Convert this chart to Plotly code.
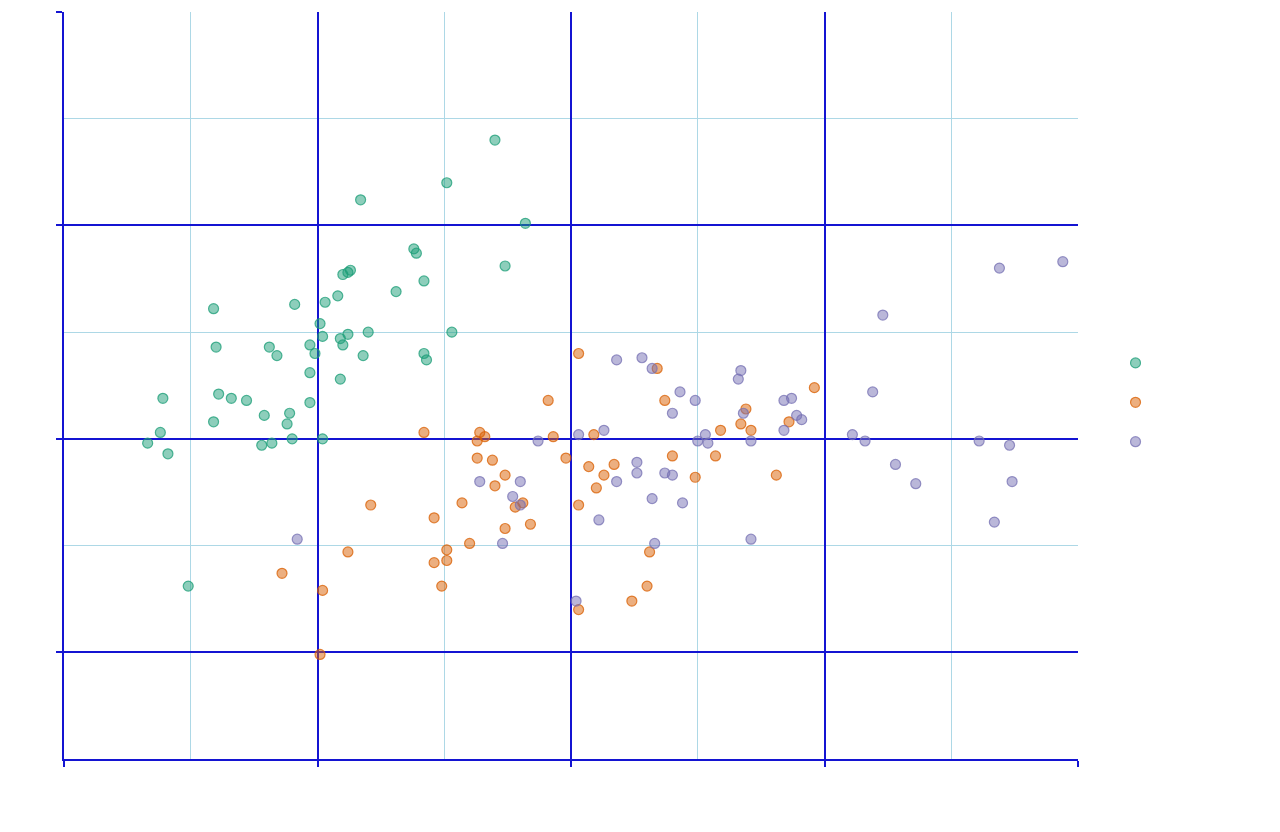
import plotly.graph_objects as go

# sepal length / sepal width, per group
green_x = [5.70, 5.51, 5.17, 5.82, 5.38, 5.39, 5.74, 5.10, 5.12, 5.13,
           5.42, 5.31, 5.08, 5.03, 4.91, 4.59, 5.01, 5.20, 5.53, 5.02,
           5.12, 5.09, 4.97, 5.10, 4.60, 4.81, 4.99, 4.84, 5.18, 5.42,
           5.43, 4.97, 5.09, 4.39, 4.61, 4.66, 4.72, 4.97, 4.79, 4.89,
           4.59, 4.88, 4.38, 4.33, 4.41, 4.78, 4.82, 4.90, 5.02, 4.49]
green_y = [4.40, 4.20, 4.12, 4.01, 3.89, 3.87, 3.81, 3.77, 3.78, 3.79,
           3.74, 3.69, 3.67, 3.64, 3.63, 3.61, 3.54, 3.50, 3.50, 3.48,
           3.49, 3.47, 3.44, 3.44, 3.43, 3.43, 3.40, 3.39, 3.39, 3.40,
           3.37, 3.31, 3.28, 3.19, 3.21, 3.19, 3.18, 3.17, 3.11, 3.12,
           3.08, 3.07, 3.03, 2.98, 2.93, 2.97, 2.98, 3.00, 3.00, 2.31]

orange_x = [5.42, 5.64, 5.63, 5.66, 5.91, 5.93, 5.63, 5.69, 5.74, 5.70,
            5.57, 5.81, 5.78, 5.46, 5.84, 5.74, 5.21, 5.60, 5.51, 5.46,
            5.51, 5.49, 5.12, 4.86, 5.02, 6.03, 6.34, 6.37, 6.69, 6.96,
            6.67, 6.71, 6.86, 6.59, 6.09, 5.98, 6.40, 6.57, 6.07, 6.17,
            6.13, 6.10, 6.49, 6.81, 6.03, 6.31, 6.30, 6.24, 6.03, 5.01]
orange_y = [3.03, 3.03, 2.99, 3.01, 3.18, 3.01, 2.91, 2.90, 2.83, 2.78,
            2.70, 2.70, 2.68, 2.63, 2.60, 2.58, 2.69, 2.51, 2.48, 2.42,
            2.43, 2.31, 2.47, 2.37, 2.29, 3.40, 3.33, 3.18, 3.14, 3.24,
            3.07, 3.04, 3.08, 3.04, 3.02, 2.91, 2.92, 2.92, 2.87, 2.88,
            2.83, 2.77, 2.82, 2.83, 2.69, 2.47, 2.31, 2.24, 2.20, 1.99]

purple_x = [5.87, 5.64, 5.80, 5.77, 5.80, 5.73, 4.92, 6.18, 6.28, 6.32,
            6.67, 6.66, 6.43, 6.49, 6.84, 6.87, 6.40, 6.68, 6.89, 6.91,
            6.84, 6.13, 6.03, 6.53, 6.50, 6.54, 6.71, 6.26, 6.26, 6.37,
            6.40, 6.18, 6.32, 6.44, 6.11, 6.33, 6.71, 6.02, 7.69, 7.94,
            7.23, 7.19, 7.11, 7.16, 7.28, 7.36, 7.61, 7.73, 7.74, 7.67]
purple_y = [2.99, 2.80, 2.80, 2.73, 2.69, 2.51, 2.53, 3.37, 3.38, 3.33,
            3.32, 3.28, 3.22, 3.18, 3.18, 3.19, 3.12, 3.12, 3.11, 3.09,
            3.04, 3.04, 3.02, 3.02, 2.99, 2.98, 2.99, 2.89, 2.84, 2.84,
            2.83, 2.80, 2.72, 2.70, 2.62, 2.51, 2.53, 2.24, 3.80, 3.83,
            3.58, 3.22, 3.02, 2.99, 2.88, 2.79, 2.99, 2.97, 2.80, 2.61]

groups = [
    (green_x, green_y, (27, 158, 119)),
    (orange_x, orange_y, (217, 95, 2)),
    (purple_x, purple_y, (117, 112, 179)),
]

fig = go.Figure()
for xs, ys, (r, g, b) in groups:
    fig.add_trace(go.Scatter(
        x=xs, y=ys, mode="markers", name="",
        marker=dict(size=10, color=f"rgba({r},{g},{b},0.5)",
                    line=dict(width=1.2, color=f"rgba({r},{g},{b},0.75)"))))

axis_col = "#1414d2"
common = dict(showline=True, linecolor=axis_col, linewidth=2,
              showgrid=True, gridcolor=axis_col, gridwidth=2,
              ticks="outside", ticklen=6, tickwidth=2, tickcolor=axis_col,
              showticklabels=False, zeroline=False,
              minor=dict(showgrid=True, gridcolor="#add8e6", gridwidth=1, dtick=0.5))

fig.update_xaxes(range=[4, 8], dtick=1, tick0=0, **common)
fig.update_yaxes(range=[1.5, 5], dtick=1, tick0=0, **common)

fig.update_layout(
    width=1280, height=832,
    margin=dict(l=56, r=210, t=4, b=81),
    plot_bgcolor="white", paper_bgcolor="white",
    showlegend=True,
    legend=dict(font=dict(size=28), x=1.037, y=0.477, yanchor="middle"),
)

fig.write_html("out.html")
